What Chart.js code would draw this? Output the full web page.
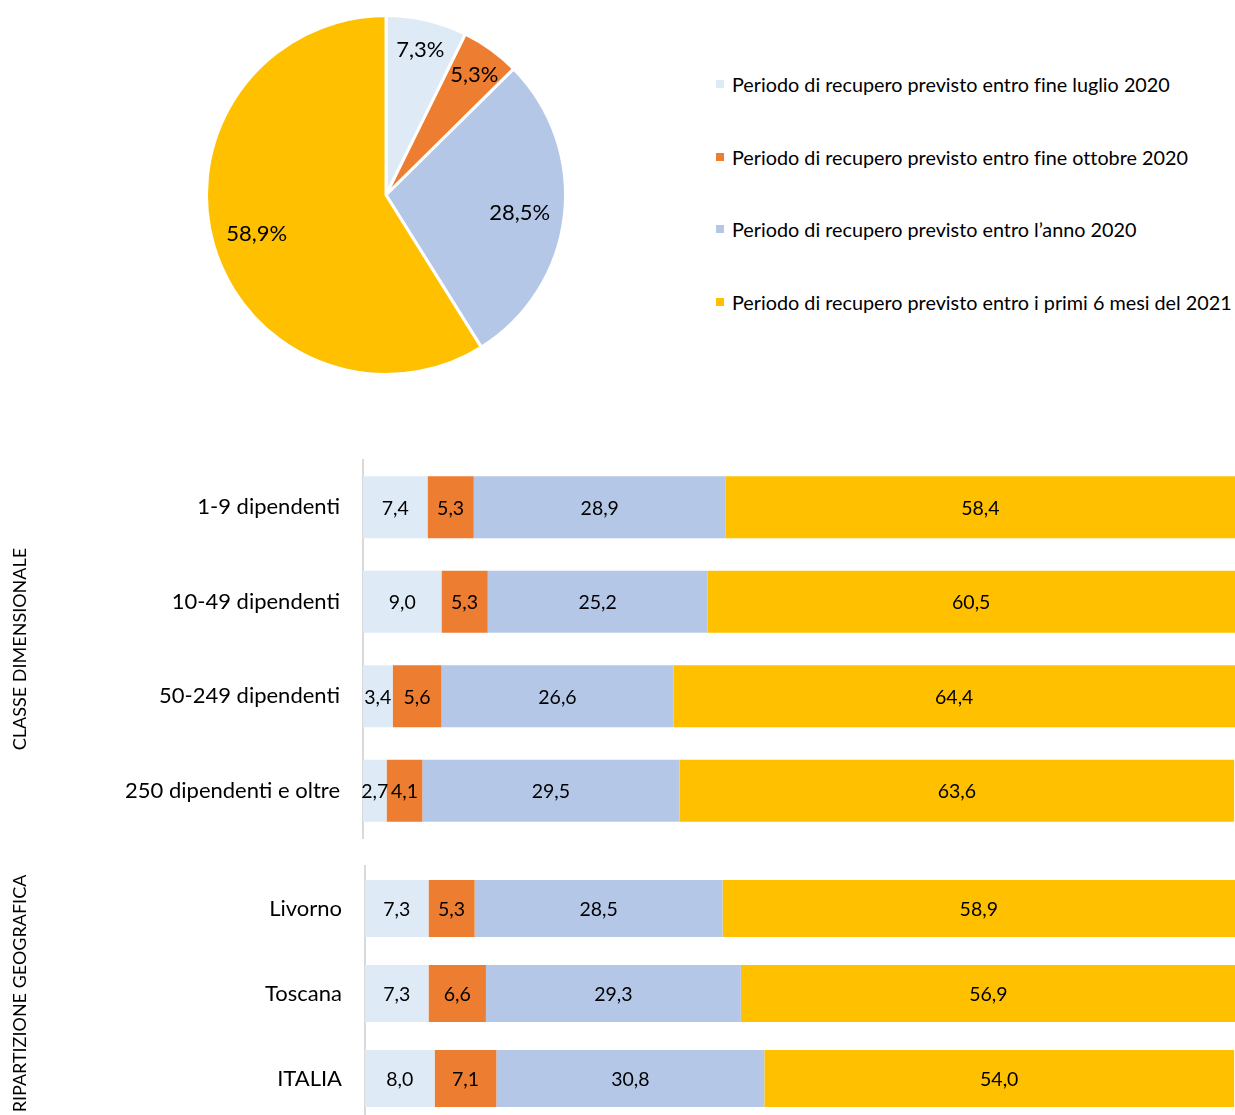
<!DOCTYPE html>
<html>
<head>
<meta charset="utf-8">
<script src="https://cdn.jsdelivr.net/npm/chart.js@4.4.0/dist/chart.umd.min.js"></script>
<style>
  body { margin: 0; background: #fff; width: 1235px; height: 1115px; overflow: hidden; position: relative; font-family: Lato, sans-serif; }
  .box { position: absolute; }
  #legend { position: absolute; left: 716px; top: 48px; }
  #legend .item { height: 72.5px; display: flex; align-items: center; font-size: 19.8px; color: #000; white-space: nowrap; font-variant-ligatures: none; }
  #legend .sw { width: 8px; height: 8px; margin-right: 8px; }
</style>
</head>
<body>
<div class="box" style="left:200px;top:9px;width:372px;height:372px"><canvas id="pie"></canvas></div>
<div id="legend"></div>
<div class="box" style="left:0;top:455px;width:1235px;height:390px"><canvas id="bySize"></canvas></div>
<div class="box" style="left:0;top:861px;width:1235px;height:270px"><canvas id="byArea"></canvas></div>
<script>
// series names
const periods = [
  'Periodo di recupero previsto entro fine luglio 2020',
  'Periodo di recupero previsto entro fine ottobre 2020',
  'Periodo di recupero previsto entro l\u2019anno 2020',
  'Periodo di recupero previsto entro i primi 6 mesi del 2021'
];
const colors = ['#DEEBF7', '#ED7D31', '#B4C7E7', '#FFC000'];

// pie (Livorno)
const pieValues = [7.3, 5.3, 28.5, 58.9];

// classe dimensionale
const sizeClasses = ['1-9 dipendenti', '10-49 dipendenti', '50-249 dipendenti', '250 dipendenti e oltre'];
const sizeJul = [7.4, 9.0, 3.4, 2.7];
const sizeOct = [5.3, 5.3, 5.6, 4.1];
const sizeYear = [28.9, 25.2, 26.6, 29.5];
const size2021 = [58.4, 60.5, 64.4, 63.6];

// ripartizione geografica
const areas = ['Livorno', 'Toscana', 'ITALIA'];
const areaJul = [7.3, 7.3, 8.0];
const areaOct = [5.3, 6.6, 7.1];
const areaYear = [28.5, 29.3, 30.8];
const area2021 = [58.9, 56.9, 54.0];

const FONT = 'Lato, sans-serif';
const fmt = v => v.toFixed(1).replace('.', ',');

// legend
const legend = document.getElementById('legend');
periods.forEach((p, i) => {
  const d = document.createElement('div');
  d.className = 'item';
  d.innerHTML = '<span class="sw" style="background:' + colors[i] + '"></span>' + p;
  legend.appendChild(d);
});

// labels inside pie slices
const pieLabels = {
  id: 'pieLabels',
  afterDatasetsDraw(chart) {
    const ctx = chart.ctx;
    const meta = chart.getDatasetMeta(0);
    const radial = [0.84, 0.84, 0.75, 0.75];
    ctx.save();
    ctx.font = '22px ' + FONT;
    ctx.fillStyle = '#000';
    ctx.textAlign = 'center';
    ctx.textBaseline = 'middle';
    meta.data.forEach((arc, i) => {
      const mid = (arc.startAngle + arc.endAngle) / 2;
      const r = arc.outerRadius * radial[i];
      ctx.fillText(fmt(pieValues[i]) + '%', arc.x + Math.cos(mid) * r, arc.y + Math.sin(mid) * r + 2);
    });
    ctx.restore();
  }
};

// labels inside bar segments
const barLabels = {
  id: 'barLabels',
  afterDatasetsDraw(chart) {
    const ctx = chart.ctx;
    ctx.save();
    ctx.font = '19.5px ' + FONT;
    ctx.fillStyle = '#000';
    ctx.textAlign = 'center';
    ctx.textBaseline = 'middle';
    chart.data.datasets.forEach((ds, di) => {
      chart.getDatasetMeta(di).data.forEach((bar, i) => {
        ctx.fillText(fmt(ds.data[i]), (bar.x + bar.base) / 2, bar.y + 1);
      });
    });
    ctx.restore();
  }
};

new Chart(document.getElementById('pie'), {
  type: 'pie',
  data: {
    labels: periods,
    datasets: [{ data: pieValues, backgroundColor: colors, borderColor: '#fff', borderWidth: 3 }]
  },
  options: {
    responsive: true,
    maintainAspectRatio: false,
    animation: false,
    layout: { padding: 5 },
    plugins: { legend: { display: false }, tooltip: { enabled: false } }
  },
  plugins: [pieLabels]
});

function stackedBars(id, cats, series, title, axisWidth, barPct, pad) {
  return new Chart(document.getElementById(id), {
    type: 'bar',
    data: {
      labels: cats,
      datasets: series.map((s, i) => ({
        label: periods[i],
        data: s,
        backgroundColor: colors[i],
        borderWidth: 0
      }))
    },
    options: {
      indexAxis: 'y',
      responsive: true,
      maintainAspectRatio: false,
      animation: false,
      layout: { padding: pad },
      datasets: { bar: { categoryPercentage: 1, barPercentage: barPct } },
      scales: {
        x: { stacked: true, min: 0, max: 100, display: false },
        y: {
          stacked: true,
          grid: { display: false },
          border: { display: true, color: '#d9d9d9', width: 2 },
          ticks: { color: '#000', padding: 15, font: { family: FONT, size: 22 } },
          title: {
            display: true,
            text: title,
            color: '#000',
            padding: { top: 9, bottom: 0 },
            font: { family: FONT, size: 18 }
          },
          afterFit(scale) {
            scale.width = axisWidth;
            scale.paddingTop = 0;
            scale.paddingBottom = 0;
          }
        }
      },
      plugins: { legend: { display: false }, tooltip: { enabled: false } }
    },
    plugins: [barLabels]
  });
}

stackedBars('bySize', sizeClasses, [sizeJul, sizeOct, sizeYear, size2021],
  'CLASSE DIMENSIONALE', 363, 0.656, { top: 5, bottom: 7, right: 0 });
stackedBars('byArea', areas, [areaJul, areaOct, areaYear, area2021],
  'RIPARTIZIONE GEOGRAFICA', 365, 0.67, { top: 5, bottom: 10, right: 0 });
</script>
</body>
</html>
